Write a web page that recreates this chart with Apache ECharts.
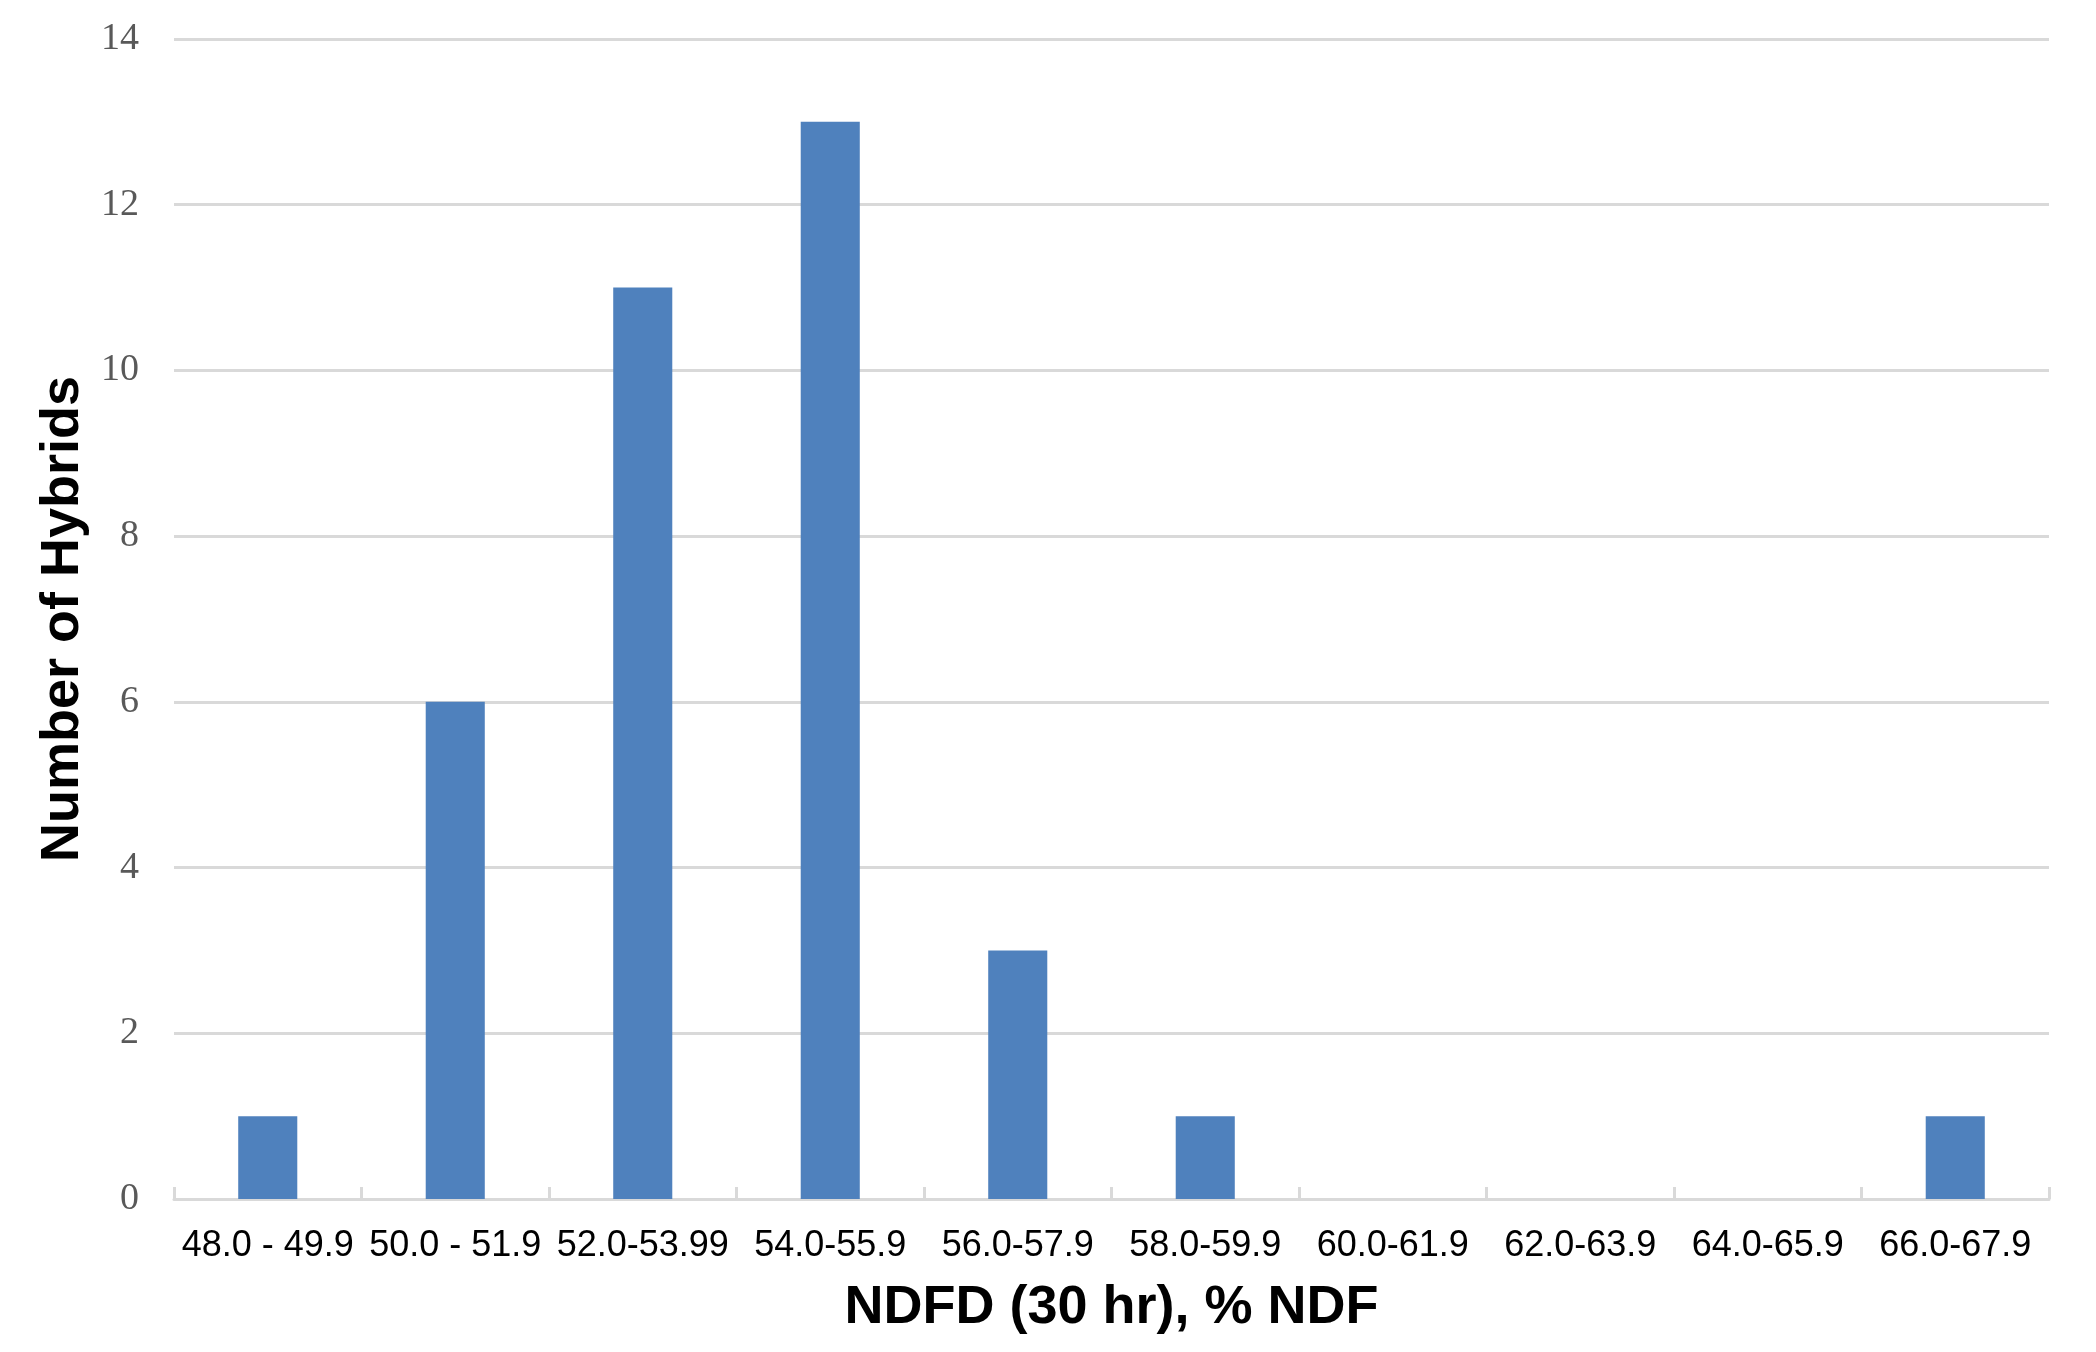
<!DOCTYPE html>
<html>
<head>
<meta charset="utf-8">
<script src="https://cdn.jsdelivr.net/npm/echarts@6/dist/echarts.min.js"></script>
<style>
html,body{margin:0;padding:0;background:#fff;}
#chart{width:2096px;height:1352px;}
</style>
</head>
<body>
<div id="chart"></div>
<script>
const categories = ["48.0 - 49.9","50.0 - 51.9","52.0-53.99","54.0-55.9","56.0-57.9","58.0-59.9","60.0-61.9","62.0-63.9","64.0-65.9","66.0-67.9"];
const hybridCounts = [1, 6, 11, 13, 3, 1, 0, 0, 0, 1];
const yTicks = {min: 0, max: 14, interval: 2};
const xTitle = "NDFD (30 hr), % NDF";
const yTitle = "Number of Hybrids";

const chart = echarts.init(document.getElementById('chart'), null, {renderer: 'canvas'});
chart.setOption({
  backgroundColor: '#ffffff',
  animation: false,
  grid: {left: 174, right: 47, top: 39, bottom: 153, containLabel: false},
  xAxis: {
    type: 'category',
    data: categories,
    boundaryGap: true,
    name: xTitle,
    nameLocation: 'middle',
    nameGap: 82,
    nameTextStyle: {fontFamily: 'Liberation Sans, Arial, sans-serif', fontWeight: 'bold', fontSize: 54, color: '#000'},
    axisLine: {show: true, lineStyle: {color: '#d9d9d9', width: 3}},
    axisTick: {show: true, inside: true, length: 12, lineStyle: {color: '#d9d9d9', width: 3}},
    axisLabel: {fontFamily: 'Liberation Sans, Arial, sans-serif', fontSize: 36, color: '#000', margin: 29, interval: 0},
    splitLine: {show: false}
  },
  yAxis: {
    type: 'value',
    min: yTicks.min, max: yTicks.max, interval: yTicks.interval,
    name: yTitle,
    nameLocation: 'middle',
    nameGap: 84,
    nameRotate: 90,
    nameTextStyle: {fontFamily: 'Liberation Sans, Arial, sans-serif', fontWeight: 'bold', fontSize: 54, color: '#000'},
    axisLine: {show: false},
    axisTick: {show: false},
    axisLabel: {fontFamily: 'Liberation Serif, Times New Roman, serif', fontSize: 38, color: '#595959', margin: 35},
    splitLine: {show: true, lineStyle: {color: '#d9d9d9', width: 3}}
  },
  series: [{
    type: 'bar',
    data: hybridCounts,
    barWidth: '31.5%',
    itemStyle: {color: '#4f81bd'}
  }]
});
</script>
</body>
</html>
